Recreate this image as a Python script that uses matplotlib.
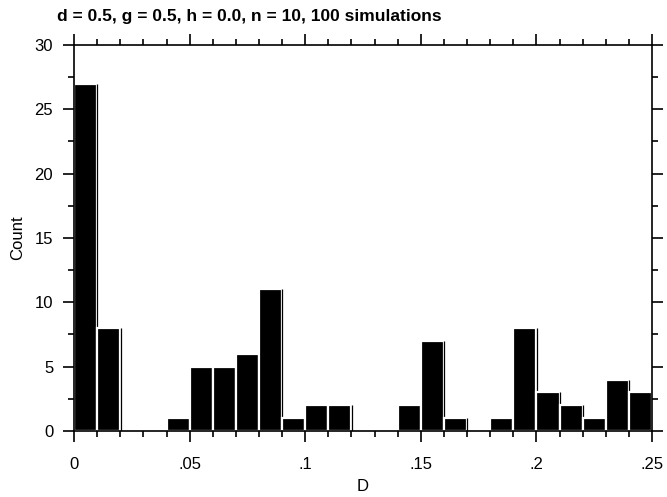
import numpy as np
import matplotlib
matplotlib.use("Agg")
import matplotlib.pyplot as plt
from matplotlib.ticker import MultipleLocator, FixedLocator

plt.rcParams['font.family'] = ['Liberation Sans', 'DejaVu Sans']

# histogram of D, 25 bins of width 0.01
bin_width = 0.01
bin_left = np.arange(25) * bin_width
counts = [27, 8, 0, 0, 1, 5, 5, 6, 11, 1, 2, 2, 0, 0, 2, 7, 1, 0, 1, 8, 3, 2, 1, 4, 3]
xtick_vals = [0, 0.05, 0.1, 0.15, 0.2, 0.25]
xtick_labels = ['0', '.05', '.1', '.15', '.2', '.25']
title = 'd = 0.5, g = 0.5, h = 0.0, n = 10, 100 simulations'

fig = plt.figure(figsize=(6.67, 4.97), dpi=100)
ax = fig.add_axes([0.111, 0.1328, 0.8665, 0.7767])

for i, (x0, h) in enumerate(zip(bin_left, counts)):
    if h == 0:
        continue
    # black bar with white outline, then the thin "shadow" line at its right edge
    ax.bar(x0, h, width=bin_width, align='edge', color='black',
           edgecolor='white', linewidth=1.6, zorder=2 + 2 * i)
    ax.vlines(x0 + bin_width + 0.0001, 0, h, color='black', linewidth=0.9,
              zorder=2.5 + 2 * i)

ax.set_xlim(0, 0.25)
ax.set_ylim(0, 30)

ax.xaxis.set_major_locator(FixedLocator(xtick_vals))
ax.set_xticklabels(xtick_labels)
ax.xaxis.set_minor_locator(MultipleLocator(0.01))
ax.yaxis.set_major_locator(MultipleLocator(5))
ax.yaxis.set_minor_locator(MultipleLocator(2.5))

ax.tick_params(which='both', direction='out', top=True, right=True,
               width=1.2, labelsize=12)
ax.tick_params(which='major', length=8)
ax.tick_params(which='minor', length=4.5)
ax.tick_params(axis='x', which='major', pad=11)
ax.tick_params(axis='y', which='major', pad=7)

for s in ax.spines.values():
    s.set_linewidth(1.2)
    s.set_zorder(100)

ax.set_xlabel('D', fontsize=12, labelpad=5)
ax.set_ylabel('Count', fontsize=12, labelpad=7)

fig.text(57 / 667, 1 - 16 / 497, title, ha='left', va='center',
         fontsize=12.5, fontweight='bold')

fig.savefig('out.png', dpi=100)
